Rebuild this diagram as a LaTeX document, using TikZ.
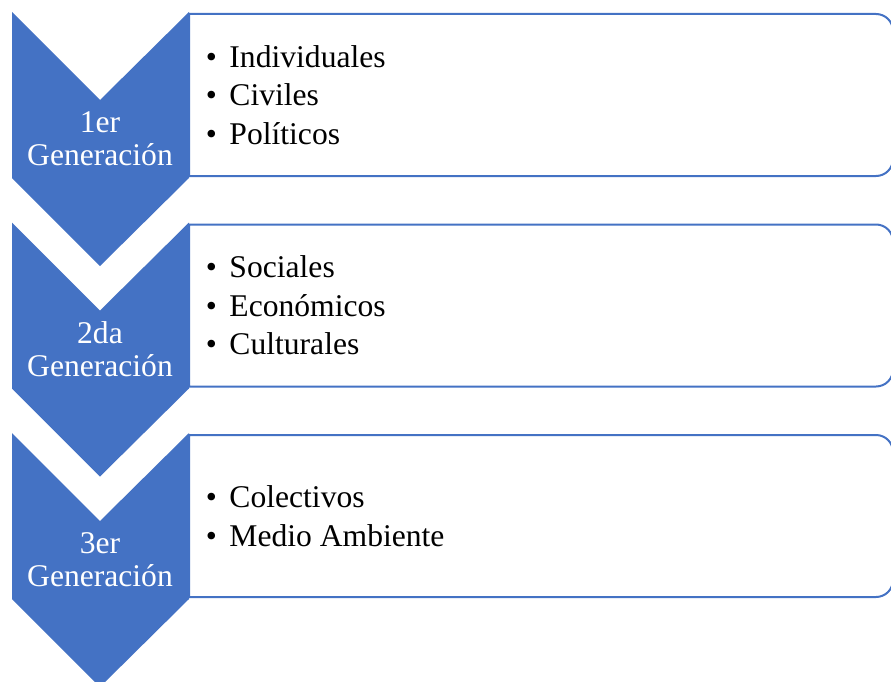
\documentclass[tikz,border=0pt]{standalone}
\usepackage{fontspec}
\setmainfont{Liberation Serif}
\definecolor{genblue}{HTML}{4472C4}
\newcommand{\itm}{\textbullet\hspace{9.5pt}}

\begin{document}
\begin{tikzpicture}[x=0.75pt,y=-0.75pt,
  chev/.style={fill=genblue},
  listbox/.style={draw=genblue,line width=1.5pt,fill=white},
  gen/.style={text=white,align=center,inner sep=0pt,
    font=\fontsize{23.7}{24.75}\selectfont},
  items/.style={anchor=west,align=left,inner sep=0pt,
    font=\fontsize{23.7}{28.9}\selectfont}]
\useasboundingbox (0,0) rectangle (891,681);

% 1er
\begin{scope}[shift={(0,0)}]
\draw[listbox] (189,14) -- (876,14) arc[start angle=-90,end angle=0,radius=17]
  -- (893,159) arc[start angle=0,end angle=90,radius=17] -- (189,176) -- cycle;
\fill[chev] (12,12) -- (100,100) -- (189,12) -- (189,178) -- (100,266) -- (12,178) -- cycle;
\node[gen] (gen1) at (100,139) {1er\\Generación};
\node[items] (list1) at (205.5,95) {\itm Individuales\\\itm Civiles\\\itm Políticos};
\end{scope}

% 2da
\begin{scope}[shift={(0,210.5)}]
\draw[listbox] (189,14) -- (876,14) arc[start angle=-90,end angle=0,radius=17]
  -- (893,159) arc[start angle=0,end angle=90,radius=17] -- (189,176) -- cycle;
\fill[chev] (12,12) -- (100,100) -- (189,12) -- (189,178) -- (100,266) -- (12,178) -- cycle;
\node[gen] (gen2) at (100,139) {2da\\Generación};
\node[items] (list2) at (205.5,95) {\itm Sociales\\\itm Económicos\\\itm Culturales};
\end{scope}

% 3er
\begin{scope}[shift={(0,421)}]
\draw[listbox] (189,14) -- (876,14) arc[start angle=-90,end angle=0,radius=17]
  -- (893,159) arc[start angle=0,end angle=90,radius=17] -- (189,176) -- cycle;
\fill[chev] (12,12) -- (100,100) -- (189,12) -- (189,178) -- (100,266) -- (12,178) -- cycle;
\node[gen] (gen3) at (100,139) {3er\\Generación};
\node[items] (list3) at (205.5,95) {\itm Colectivos\\\itm Medio Ambiente};
\end{scope}
\end{tikzpicture}
\end{document}
